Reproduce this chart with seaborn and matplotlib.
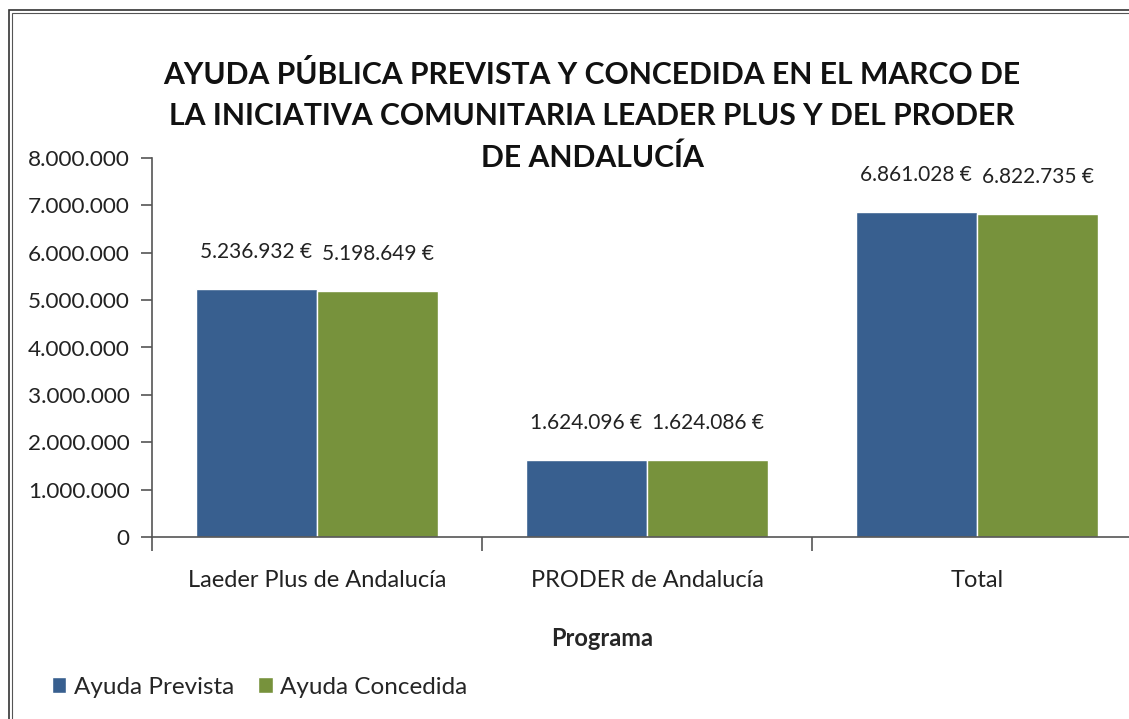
import numpy as np
import pandas as pd
import seaborn as sns
import matplotlib.pyplot as plt
from matplotlib.patches import Rectangle, Patch
from matplotlib.ticker import FuncFormatter, FixedLocator

# data
programas = ["Laeder Plus de Andalucía", "PRODER de Andalucía", "Total"]
prevista = [5236932, 1624096, 6861028]
concedida = [5198649, 1624086, 6822735]
series = ["Ayuda Prevista", "Ayuda Concedida"]
titulo = ["AYUDA PÚBLICA PREVISTA Y CONCEDIDA EN EL MARCO DE",
          "LA INICIATIVA COMUNITARIA LEADER PLUS Y DEL PRODER",
          "DE ANDALUCÍA"]

df = pd.DataFrame({
    "Programa": programas * 2,
    "Serie": [series[0]] * 3 + [series[1]] * 3,
    "Valor": prevista + concedida,
})

sns.set_style("white")
plt.rcParams["font.family"] = ["Lato", "DejaVu Sans"]

W, H = 1129, 719
fig = plt.figure(figsize=(W / 100, H / 100), dpi=100)
ax = fig.add_axes([152 / W, (H - 537) / H, 990 / W, (537 - 158) / H])

colors = ["#385f8f", "#77923c"]
sns.barplot(data=df, x="Programa", y="Valor", hue="Serie", palette=colors,
            width=0.735, saturation=1, ax=ax, legend=False)

def miles(v):
    return f"{int(round(v)):,}".replace(",", ".")

for cont in ax.containers:
    for bar in cont:
        h = bar.get_height()
        ax.annotate(miles(h) + " €", (bar.get_x() + bar.get_width() / 2, h),
                    xytext=(0, 27), textcoords="offset pixels",
                    ha="center", va="bottom", fontsize=15, color="#222222")

ax.set_ylim(0, 8000000)
ax.set_xlim(-0.5, 2.5)
ax.yaxis.set_major_locator(FixedLocator(np.arange(0, 8000001, 1000000)))
ax.yaxis.set_major_formatter(FuncFormatter(lambda v, p: miles(v)))
ax.xaxis.set_minor_locator(FixedLocator([-0.5, 0.5, 1.5, 2.5]))

for s in ["top", "right"]:
    ax.spines[s].set_visible(False)
for s in ["left", "bottom"]:
    ax.spines[s].set_color("#555555")
    ax.spines[s].set_linewidth(1.2)

ax.tick_params(axis="y", which="major", direction="out", length=8, width=1.2,
               color="#555555", labelsize=16.2, pad=8, left=True)
ax.tick_params(axis="x", which="major", length=0, labelsize=17, pad=24)
ax.tick_params(axis="x", which="minor", direction="out", length=10, width=1.2,
               color="#555555", bottom=True)
for lbl in ax.get_xticklabels() + ax.get_yticklabels():
    lbl.set_color("#222222")

ax.set_ylabel("")
ax.set_xlabel("Programa", fontsize=17, fontweight="bold")
ax.xaxis.set_label_coords((602 - 152) / 990, -(627 - 537) / (537 - 158))

# título, una línea cada vez
for linea, y in zip(titulo, [74, 116, 158]):
    fig.text(592 / W, 1 - y / H, linea, ha="center", va="center",
             fontsize=21.7, fontweight="bold", color="#111111")

# leyenda
handles = [Patch(facecolor=c, label=s) for c, s in zip(colors, series)]
fig.legend(handles=handles, loc="center left", bbox_to_anchor=(30 / W, 1 - 687 / H),
           ncol=2, frameon=False, fontsize=17.5, handlelength=0.6, handleheight=0.6,
           handletextpad=0.3, columnspacing=1.0)

# marco del gráfico
fig.patches.append(Rectangle((9 / W, -0.1), 1.2, 1 - 10 / H + 0.1, transform=fig.transFigure,
                             fill=False, edgecolor="#333333", linewidth=1.2))
fig.patches.append(Rectangle((12 / W, -0.1), 1.2, 1 - 13 / H + 0.1, transform=fig.transFigure,
                             fill=False, edgecolor="#555555", linewidth=0.8))

fig.savefig("out.png", dpi=100)
